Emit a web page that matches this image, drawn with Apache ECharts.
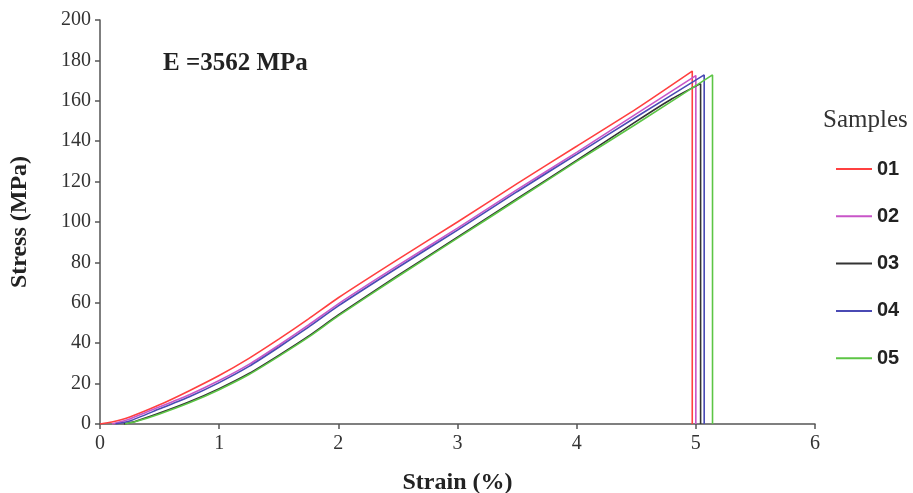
<!DOCTYPE html>
<html>
<head>
<meta charset="utf-8">
<script src="https://cdn.jsdelivr.net/npm/echarts@6/dist/echarts.min.js"></script>
<style>html,body{margin:0;padding:0;background:#fff;}#c{width:913px;height:493px;}</style>
</head>
<body>
<div id="c"></div>
<script>
// Tick labels
var xTicks = [0, 1, 2, 3, 4, 5, 6];
var yTicks = [0, 20, 40, 60, 80, 100, 120, 140, 160, 180, 200];
var sampleNames = ['01', '02', '03', '04', '05'];
var sampleColors = ['#ff4040', '#c855c8', '#333333', '#4a4ab4', '#5cc545'];

// Sample 01
var strain01 = [0, 0.1, 0.25, 0.5, 0.75, 1.0, 1.25, 1.5, 1.75, 2.0, 2.5, 3.0, 3.5, 4.0, 4.5, 4.97, 4.97];
var stress01 = [0, 1, 3.5, 9.5, 16.5, 24, 32.5, 42, 52, 62.5, 81.5, 100, 119, 137.5, 156, 174.7, 0];
// Sample 02
var strain02 = [0.1, 0.25, 0.5, 0.75, 1.0, 1.25, 1.5, 1.75, 2.0, 2.5, 3.0, 3.5, 4.0, 4.5, 5.0, 5.0];
var stress02 = [0, 2.5, 8.5, 14.5, 21.5, 29.5, 39, 49, 59.5, 78.5, 97, 116, 134.5, 153.5, 172.5, 0];
// Sample 03
var strain03 = [0.2, 0.3, 0.5, 0.75, 1.0, 1.25, 1.5, 1.75, 2.0, 2.5, 3.0, 3.5, 4.0, 4.5, 4.8, 5.04, 5.04];
var stress03 = [0, 1.4, 5.4, 11, 17.5, 25, 34, 43.5, 54, 73.5, 92.5, 111.5, 130.5, 149.8, 161, 168.5, 0];
// Sample 04
var strain04 = [0.13, 0.25, 0.5, 0.75, 1.0, 1.25, 1.5, 1.75, 2.0, 2.5, 3.0, 3.5, 4.0, 4.5, 5.07, 5.07];
var stress04 = [0, 1.5, 7.5, 13.5, 20.5, 28.5, 38, 48, 58.5, 77.5, 96, 115, 133.5, 152, 172.8, 0];
// Sample 05
var strain05 = [0.21, 0.3, 0.5, 0.75, 1.0, 1.25, 1.5, 1.75, 2.0, 2.5, 3.0, 3.5, 4.0, 4.5, 5.14, 5.14];
var stress05 = [0, 1.2, 5, 10.5, 17, 24.5, 33.5, 43, 53.5, 73, 92, 111, 130, 148.5, 172.8, 0];

var strains = [strain01, strain02, strain03, strain04, strain05];
var stresses = [stress01, stress02, stress03, stress04, stress05];

function pairs(xs, ys) {
  var out = [];
  for (var i = 0; i < xs.length; i++) out.push([xs[i], ys[i]]);
  return out;
}

var series = sampleNames.map(function (n, i) {
  return {
    name: n,
    type: 'line',
    data: pairs(strains[i], stresses[i]),
    showSymbol: false,
    symbol: 'none',
    smooth: 0.2,
    lineStyle: { color: sampleColors[i], width: 1.6 },
    itemStyle: { color: sampleColors[i] },
    z: 2 + i,
    animation: false
  };
});

var serif = '"Liberation Serif", "Times New Roman", serif';
var chart = echarts.init(document.getElementById('c'));
chart.setOption({
  animation: false,
  backgroundColor: '#ffffff',
  grid: { left: 100, right: 98, top: 20, bottom: 69, outerBoundsMode: 'none', containLabel: false },
  xAxis: {
    type: 'value', min: xTicks[0], max: xTicks[xTicks.length - 1], interval: 1,
    name: 'Strain (%)', nameLocation: 'middle', nameGap: 47,
    nameTextStyle: { fontFamily: serif, fontWeight: 'bold', fontSize: 24, color: '#222' },
    axisLine: { lineStyle: { color: '#555', width: 1.5 } },
    axisTick: { show: true, length: 5, lineStyle: { color: '#555', width: 1.5 } },
    axisLabel: { fontFamily: serif, fontSize: 20, color: '#333', margin: 10 },
    splitLine: { show: false }
  },
  yAxis: {
    type: 'value', min: yTicks[0], max: yTicks[yTicks.length - 1], interval: 20,
    name: 'Stress (MPa)', nameLocation: 'middle', nameGap: 68, nameRotate: 90,
    nameTextStyle: { fontFamily: serif, fontWeight: 'bold', fontSize: 24, color: '#222' },
    axisLine: { show: true, lineStyle: { color: '#555', width: 1.5 } },
    axisTick: { show: true, length: 5, lineStyle: { color: '#555', width: 1.5 } },
    axisLabel: { fontFamily: serif, fontSize: 20, color: '#333', margin: 9 },
    splitLine: { show: false }
  },
  legend: {
    orient: 'vertical', left: 836, top: 159, padding: 0,
    itemWidth: 36, itemHeight: 2, itemGap: 27.3,
    icon: 'rect',
    data: sampleNames,
    textStyle: { fontFamily: '"Liberation Sans", Arial, sans-serif', fontWeight: 'bold', fontSize: 20, color: '#222', lineHeight: 20 }
  },
  graphic: [
    { type: 'text', left: 823, top: 108, style: { text: 'Samples', font: '25px ' + serif, fill: '#333' } },
    { type: 'text', left: 163, top: 51, style: { text: 'E =3562 MPa', font: 'bold 25px ' + serif, fill: '#222' } }
  ],
  series: series
});
</script>
</body>
</html>
